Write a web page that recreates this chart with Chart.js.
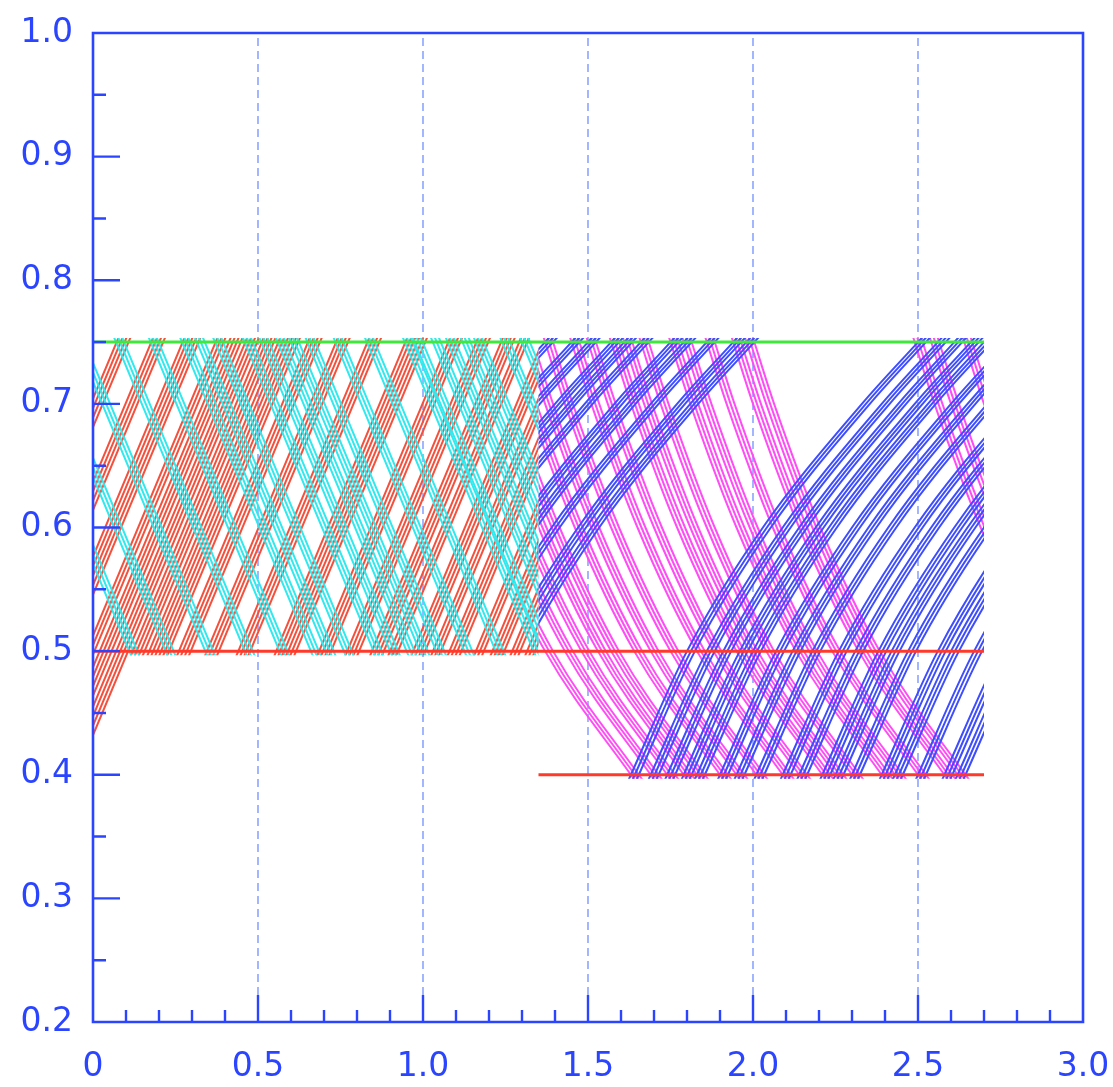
<!DOCTYPE html>
<html>
<head>
<meta charset="utf-8">
<script src="https://cdn.jsdelivr.net/npm/chart.js@4.4.1/dist/chart.umd.min.js"></script>
<style>
  html, body { margin: 0; padding: 0; background: #ffffff; }
  #wrap { width: 1113px; height: 1087px; position: relative; }
</style>
</head>
<body>
<div id="wrap"><canvas id="chart"></canvas></div>
<script>
// ---- axis labels ----
const xTickLabels = ['0', '0.5', '1.0', '1.5', '2.0', '2.5', '3.0'];
const yTickLabels = ['0.2', '0.3', '0.4', '0.5', '0.6', '0.7', '0.8', '0.9', '1.0'];

// ---- walls of the channel ----
const wallTop = { x: [0, 2.7], y: [0.75, 0.75] };
const wallMid = { x: [0, 2.7], y: [0.5, 0.5] };
const wallLow = { x: [1.35, 2.7], y: [0.4, 0.4] };

// ---- ray shapes (offset from the reference crossing) ----
// narrow section: straight rays; rising ones referenced at y = 0.5, falling ones at y = 0.75
const riseNarrowDx = [-0.2, 0.47];
const riseNarrowY = [0.372, 0.80];
const fallNarrowDx = [-0.08, 0.47];
const fallNarrowY = [0.801, 0.449];
// wide section: bent rays; rising ones referenced at y = 0.4, falling ones at y = 0.75
const riseWideDx = [-0.02, 0, 0.17, 0.40, 0.70, 0.87, 1.04];
const riseWideY = [0.388, 0.4, 0.5, 0.6, 0.7, 0.75, 0.8];
const fallWideDx = [-0.02, 0, 0.06, 0.20, 0.38, 0.64, 0.67];
const fallWideY = [0.767, 0.75, 0.7, 0.6, 0.5, 0.4, 0.389];

// ---- ray positions ----
// rising rays of the narrow section, x where each meets y = 0.5
const redRays = [
  -0.32, -0.308, -0.296, -0.284,
  -0.215, -0.203, -0.191, -0.179,
  -0.12, -0.108, -0.096, -0.084, -0.072,
  -0.02, -0.008, 0.004,
  0.12, 0.132, 0.144, 0.156,
  0.17, 0.182, 0.194, 0.206, 0.218, 0.23,
  0.26, 0.272, 0.284, 0.296,
  0.345, 0.357, 0.369, 0.381,
  0.44, 0.452, 0.464, 0.476,
  0.555, 0.567, 0.579, 0.591, 0.603, 0.615,
  0.685, 0.697, 0.709, 0.721,
  0.77, 0.782, 0.794, 0.806,
  0.845, 0.857, 0.869, 0.881,
  0.90, 0.912, 0.924,
  0.97, 0.982, 0.994, 1.006,
  1.03, 1.042, 1.054,
  1.08, 1.092, 1.104, 1.116,
  1.16, 1.172, 1.184,
  1.21, 1.222, 1.234, 1.246,
  1.27, 1.282, 1.294,
  1.315, 1.327, 1.339
];
// rising rays launched below the lower wall at the inlet
const redInletRays = [0.02, 0.032, 0.044, 0.056, 0.07, 0.082, 0.094, 0.106];
// falling rays of the narrow section, x where each meets y = 0.75
const cyanRays = [
  -0.28, -0.268, -0.256, -0.17, -0.158, -0.146, -0.05, -0.038, -0.026,
  0.07, 0.082, 0.094, 0.175, 0.187, 0.199, 0.27, 0.282, 0.294,
  0.315, 0.327, 0.339, 0.37, 0.382, 0.394, 0.46, 0.472, 0.484,
  0.51, 0.522, 0.534, 0.56, 0.572, 0.584, 0.60, 0.612, 0.624,
  0.65, 0.662, 0.674, 0.735, 0.747, 0.759, 0.83, 0.842, 0.854,
  0.945, 0.957, 0.969, 0.975, 0.987, 0.999, 1.03, 1.042, 1.054,
  1.075, 1.087, 1.099, 1.12, 1.132, 1.144, 1.16, 1.172, 1.184,
  1.24, 1.252, 1.264, 1.30, 1.312, 1.324
];
// rising rays of the wide section, x where each meets y = 0.4
const blueRays = [
  0.50, 0.512, 0.524, 0.58, 0.592, 0.604, 0.63, 0.642, 0.654,
  0.70, 0.712, 0.724, 0.74, 0.752, 0.764, 0.79, 0.802, 0.814,
  0.88, 0.892, 0.904, 0.92, 0.932, 0.944, 0.99, 1.002, 1.014,
  1.07, 1.082, 1.094, 1.11, 1.122, 1.134,
  1.63, 1.642, 1.654, 1.69, 1.702, 1.714, 1.74, 1.752, 1.764,
  1.79, 1.802, 1.814, 1.83, 1.842, 1.854, 1.90, 1.912, 1.924,
  1.95, 1.962, 1.974, 2.01, 2.022, 2.034, 2.09, 2.102, 2.114,
  2.14, 2.152, 2.164, 2.21, 2.222, 2.234, 2.25, 2.262, 2.274,
  2.30, 2.312, 2.324, 2.39, 2.402, 2.414, 2.43, 2.442, 2.454,
  2.50, 2.512, 2.524, 2.58, 2.592, 2.604, 2.62, 2.632, 2.644
];
// falling rays of the wide section, x where each meets y = 0.75
const magentaRays = [
  0.99, 1.002, 1.014, 1.05, 1.062, 1.074, 1.10, 1.112, 1.124,
  1.15, 1.162, 1.174, 1.19, 1.202, 1.214, 1.26, 1.272, 1.284,
  1.31, 1.322, 1.334,
  1.37, 1.382, 1.394, 1.45, 1.462, 1.474, 1.50, 1.512, 1.524,
  1.57, 1.582, 1.594, 1.61, 1.622, 1.634, 1.66, 1.672, 1.684,
  1.75, 1.762, 1.774, 1.79, 1.802, 1.814, 1.86, 1.872, 1.884,
  1.94, 1.952, 1.964, 1.98, 1.992, 2.004,
  2.49, 2.502, 2.514, 2.54, 2.552, 2.564, 2.64, 2.652, 2.664
];

// regions each family is confined to
const narrowZone = { x: [0, 1.35], y: [0.5, 0.75] };
const inletZone = { x: [0, 1.35], y: [0.42, 0.75] };
const wideZone = { x: [1.35, 2.7], y: [0.4, 0.75] };

const AXIS = '#2b45ff';
const COLORS = {
  red: '#f4503c',
  cyan: '#2fe9ee',
  blue: '#3d4dff',
  magenta: '#ff4cf5',
  green: '#3fe83a',
  wall: '#ff3a2a'
};

function rayPoints(x0, dx, ys) {
  return dx.map((d, i) => ({ x: x0 + d, y: ys[i] }));
}

const datasets = [];
function addWall(w, color) {
  datasets.push({
    data: w.x.map((x, i) => ({ x, y: w.y[i] })),
    borderColor: color, borderWidth: 3, pointRadius: 0, order: 0
  });
}
addWall(wallTop, COLORS.green);
addWall(wallMid, COLORS.wall);
addWall(wallLow, COLORS.wall);

function addRays(list, dx, ys, color, zone, order, curved) {
  list.forEach(x0 => {
    datasets.push({
      data: rayPoints(x0, dx, ys),
      borderColor: color, borderWidth: 2, pointRadius: 0,
      cubicInterpolationMode: curved ? 'monotone' : 'default',
      order, zone
    });
  });
}
addRays(cyanRays, fallNarrowDx, fallNarrowY, COLORS.cyan, narrowZone, 1, false);
addRays(redRays, riseNarrowDx, riseNarrowY, COLORS.red, narrowZone, 2, false);
addRays(redInletRays, riseNarrowDx, riseNarrowY, COLORS.red, inletZone, 2, false);
addRays(blueRays, riseWideDx, riseWideY, COLORS.blue, wideZone, 1, true);
addRays(magentaRays, fallWideDx, fallWideY, COLORS.magenta, wideZone, 2, true);

// confine each ray family to its section of the channel
const zoneClip = {
  id: 'zoneClip',
  beforeDatasetDraw(chart, args) {
    const ds = chart.data.datasets[args.index];
    if (!ds.zone) return;
    const xs = chart.scales.x, ys = chart.scales.y;
    const left = xs.getPixelForValue(ds.zone.x[0]);
    const right = xs.getPixelForValue(ds.zone.x[1]);
    const top = ys.getPixelForValue(ds.zone.y[1]) - 4;
    const bottom = ys.getPixelForValue(ds.zone.y[0]) + 4;
    const ctx = chart.ctx;
    ctx.save();
    ctx.beginPath();
    ctx.rect(left, top, right - left, bottom - top);
    ctx.clip();
  },
  afterDatasetDraw(chart, args) {
    const ds = chart.data.datasets[args.index];
    if (ds.zone) chart.ctx.restore();
  }
};

// dashed verticals, frame and inward ticks
const frame = {
  id: 'frame',
  beforeDatasetsDraw(chart) {
    const { ctx, chartArea: a } = chart;
    const xs = chart.scales.x;
    ctx.save();
    ctx.strokeStyle = 'rgba(110,140,255,0.7)';
    ctx.lineWidth = 1.8;
    ctx.setLineDash([8, 5]);
    for (let v = 0.5; v < 2.99; v += 0.5) {
      const px = Math.round(xs.getPixelForValue(v));
      ctx.beginPath();
      ctx.moveTo(px, a.bottom - 27);
      ctx.lineTo(px, a.top);
      ctx.stroke();
    }
    ctx.restore();
  },
  afterDatasetsDraw(chart) {
    const { ctx, chartArea: a } = chart;
    const xs = chart.scales.x, ys = chart.scales.y;
    ctx.save();
    ctx.strokeStyle = AXIS;
    ctx.lineWidth = 2.6;
    ctx.beginPath();
    ctx.rect(a.left, a.top, a.right - a.left, a.bottom - a.top);
    ctx.stroke();
    ctx.lineWidth = 2.4;
    ctx.beginPath();
    for (let i = 1; i < 30; i++) {
      const px = xs.getPixelForValue(i / 10);
      const len = i % 5 === 0 ? 27 : 12;
      ctx.moveTo(px, a.bottom);
      ctx.lineTo(px, a.bottom - len);
    }
    for (let i = 1; i < 16; i++) {
      const py = ys.getPixelForValue(0.2 + i * 0.05);
      const len = i % 2 === 0 ? 27 : 13;
      ctx.moveTo(a.left, py);
      ctx.lineTo(a.left + len, py);
    }
    ctx.stroke();
    ctx.restore();
  }
};

function noOverhang(s) {
  s.paddingLeft = 0; s.paddingRight = 0; s.paddingTop = 0; s.paddingBottom = 0;
}

Chart.defaults.font.family = 'DejaVu Sans';

new Chart(document.getElementById('chart'), {
  type: 'line',
  data: { datasets },
  options: {
    responsive: true,
    maintainAspectRatio: false,
    animation: false,
    devicePixelRatio: 1,
    events: [],
    layout: { padding: { top: 33, right: 30, left: 0, bottom: 0 } },
    plugins: { legend: { display: false }, tooltip: { enabled: false } },
    scales: {
      x: {
        type: 'linear', min: 0, max: 3,
        grid: { display: false, drawTicks: false },
        border: { display: false },
        ticks: {
          stepSize: 0.5, maxRotation: 0, autoSkip: false, padding: 26,
          color: AXIS, font: { size: 33 },
          callback: (v, i) => xTickLabels[i]
        },
        afterFit: s => { s.height = 65; noOverhang(s); }
      },
      y: {
        type: 'linear', min: 0.2, max: 1.0,
        grid: { display: false, drawTicks: false },
        border: { display: false },
        ticks: {
          stepSize: 0.1, autoSkip: false, padding: 20,
          color: AXIS, font: { size: 33 },
          callback: (v, i) => yTickLabels[i]
        },
        afterFit: s => { s.width = 93; noOverhang(s); }
      }
    }
  },
  plugins: [zoneClip, frame]
});
</script>
</body>
</html>
